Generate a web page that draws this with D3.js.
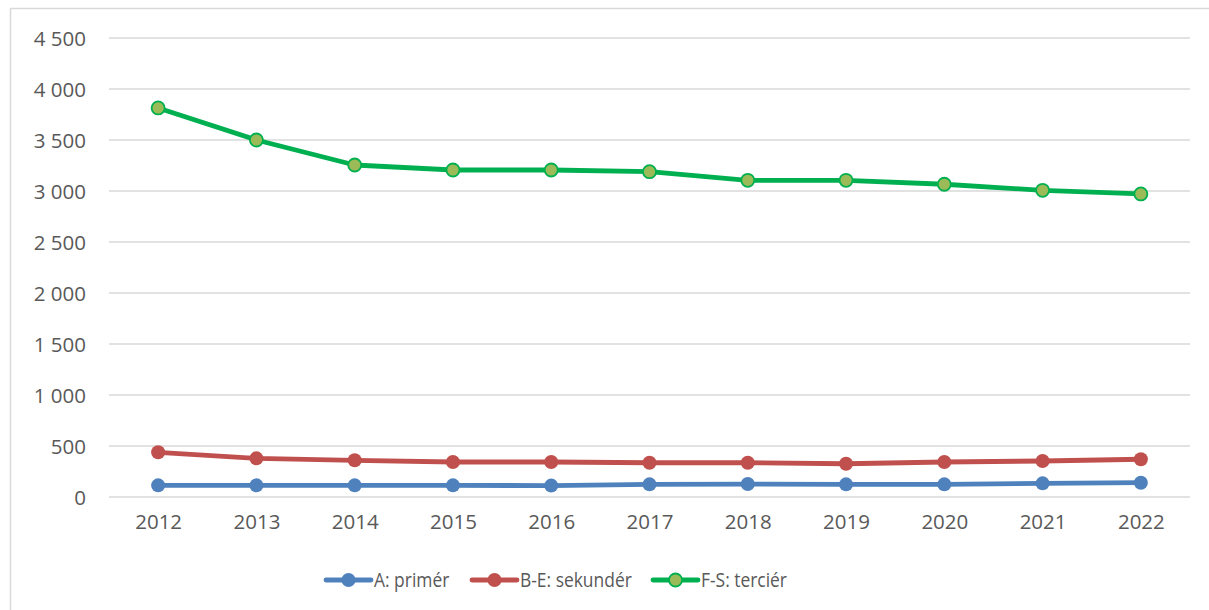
<!DOCTYPE html>
<html>
<head>
<meta charset="utf-8">
<script src="https://cdn.jsdelivr.net/npm/d3@7"></script>
<style>
  body { margin: 0; background: #fff; }
  svg text { font-family: "Open Sans", "Liberation Sans", sans-serif; fill: #595959; }
</style>
</head>
<body>
<div class="chart"></div>
<script>
var years = ["2012","2013","2014","2015","2016","2017","2018","2019","2020","2021","2022"];
var primer = [114, 114, 114, 114, 112, 124, 127, 124, 124, 134, 140];
var sekunder = [438, 379, 360, 343, 343, 336, 336, 326, 343, 353, 370];
var tercier = [3814, 3500, 3255, 3206, 3206, 3189, 3105, 3105, 3066, 3007, 2971];
var yTicks = [0, 500, 1000, 1500, 2000, 2500, 3000, 3500, 4000, 4500];
var names = ["A: primér", "B-E: sekundér", "F-S: terciér"];

var width = 1209, height = 610;
var svg = d3.select(".chart").append("svg")
    .attr("width", width)
    .attr("height", height);

// outer frame
svg.append("rect")
    .attr("x", 10.5).attr("y", 8.5)
    .attr("width", 1210).attr("height", 620)
    .attr("fill", "none")
    .attr("stroke", "#d9d9d9")
    .attr("stroke-width", 1.5);

var x = d3.scalePoint().domain(years).range([109, 1190]).padding(0.5);
var y = d3.scaleLinear().domain([0, 4500]).range([497, 38]);

// gridlines
svg.append("g")
    .selectAll("line")
    .data(yTicks)
    .enter().append("line")
    .attr("x1", 109).attr("x2", 1190)
    .attr("y1", function(d){ return y(d); })
    .attr("y2", function(d){ return y(d); })
    .attr("stroke", "#d9d9d9")
    .attr("stroke-width", 1.5);

var fmt = function(d){ return d3.format(",")(d).replace(/,/g, " "); };

var yAxis = d3.axisLeft(y).tickValues(yTicks).tickFormat(fmt).tickSize(0).tickPadding(0);
svg.append("g")
    .attr("transform", "translate(86,0)")
    .call(yAxis)
    .call(function(g){ g.select(".domain").remove(); })
    .selectAll("text")
    .style("font-size", "20.5px")
    .attr("dy", "0.36em");

var xAxis = d3.axisBottom(x).tickSize(0).tickPadding(0);
svg.append("g")
    .attr("transform", "translate(0,514)")
    .call(xAxis)
    .call(function(g){ g.select(".domain").remove(); })
    .selectAll("text")
    .style("font-size", "20.5px")
    .attr("dy", "0.71em");

var series = [
  {name: names[0], values: primer, stroke: "#4F81BD", fill: "#4F81BD", r: 7, sw: 0},
  {name: names[1], values: sekunder, stroke: "#C0504D", fill: "#C0504D", r: 7, sw: 0},
  {name: names[2], values: tercier, stroke: "#00B050", fill: "#9BBB59", r: 6.5, sw: 1.8}
];

var line = d3.line()
    .x(function(d, i){ return x(years[i]); })
    .y(function(d){ return y(d); });

series.forEach(function(s){
    svg.append("path")
        .datum(s.values)
        .attr("fill", "none")
        .attr("stroke", s.stroke)
        .attr("stroke-width", 4.8)
        .attr("stroke-linejoin", "round")
        .attr("d", line);
    svg.append("g")
        .selectAll("circle")
        .data(s.values)
        .enter().append("circle")
        .attr("cx", function(d, i){ return x(years[i]); })
        .attr("cy", function(d){ return y(d); })
        .attr("r", s.r)
        .attr("fill", s.fill)
        .attr("stroke", s.stroke)
        .attr("stroke-width", s.sw);
});

// legend (text squeezed a bit, the original font is narrower)
var legX = [326, 472, 653];
var legY = 580;
var legend = svg.append("g").attr("class", "legend");
series.forEach(function(s, i){
    var g = legend.append("g").attr("transform", "translate(" + legX[i] + "," + legY + ")");
    g.append("line")
        .attr("x1", 0).attr("x2", 45)
        .attr("y1", 0).attr("y2", 0)
        .attr("stroke", s.stroke)
        .attr("stroke-width", 4.8)
        .attr("stroke-linecap", "round");
    g.append("circle")
        .attr("cx", 22.5).attr("cy", 0)
        .attr("r", s.r)
        .attr("fill", s.fill)
        .attr("stroke", s.stroke)
        .attr("stroke-width", s.sw);
    g.append("text")
        .attr("transform", "translate(48,0) scale(0.85,1)")
        .attr("dy", "0.36em")
        .style("font-size", "20.5px")
        .text(s.name);
});
</script>
</body>
</html>
